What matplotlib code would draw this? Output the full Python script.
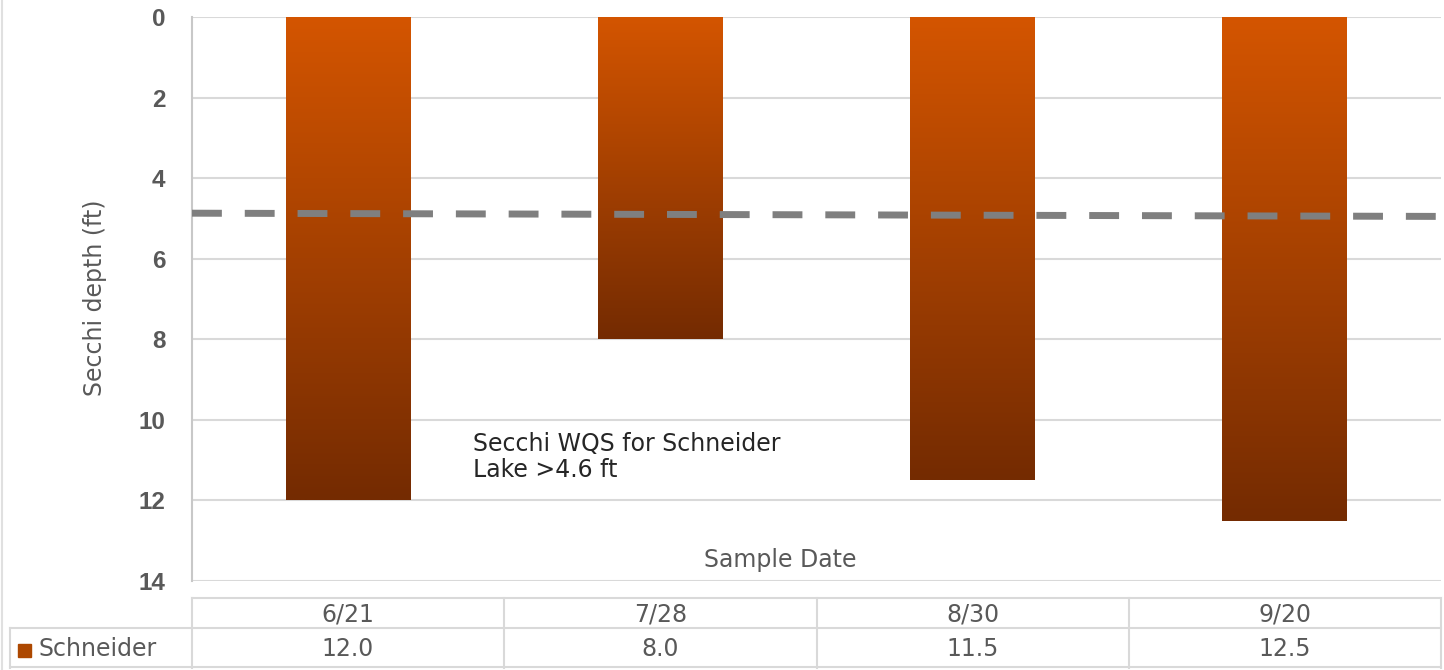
import numpy as np
import matplotlib.pyplot as plt
from matplotlib.colors import LinearSegmentedColormap

# DATA
dates = ["6/21", "7/28", "8/30", "9/20"]
secchi = [12.0, 8.0, 11.5, 12.5]
series_name = "Schneider"
wqs_line = [4.87, 4.95]          # dashed guide, left end / right end (ft)
yticks = [0, 2, 4, 6, 8, 10, 12, 14]

W, H = 1444, 670
fig = plt.figure(figsize=(W/100, H/100), dpi=100)
plt.rcParams["font.family"] = ["Liberation Sans", "DejaVu Sans"]
wide = ["DejaVu Sans"]     # the wider face for the grey labels

def fx(px):
    return px / W

def fy(py):
    return 1 - py / H

# plot area in pixels
x0, x1, y0, y1 = 192, 1441, 17, 581
ax = fig.add_axes([fx(x0), fy(y1), fx(x1 - x0), (y1 - y0) / H])

grid_c = "#d9d9d9"
text_c = "#595959"

x = np.arange(len(dates))
bars = ax.bar(x, secchi, width=0.4, color="none", zorder=2)

# orange-to-brown gradient inside each bar
cmap = LinearSegmentedColormap.from_list("sec", ["#d45500", "#742b02"])
grad = np.linspace(0, 1, 256).reshape(-1, 1)
for b in bars:
    bx, by = b.get_x(), b.get_y()
    im = ax.imshow(grad, cmap=cmap, aspect="auto", zorder=2,
                   extent=[bx, bx + b.get_width(), b.get_height(), by])
    im.set_clip_path(b)
ax.set_xlim(-0.5, len(dates) - 0.5)
ax.set_ylim(14, 0)

ax.set_yticks(yticks)
ax.set_yticklabels([str(t) for t in yticks], fontsize=17.5, fontweight="bold", color=text_c)
ax.tick_params(axis="y", length=0, pad=19)
ax.set_xticks([])
ax.grid(axis="y", color=grid_c, lw=1.5, zorder=0)
for s in ["top", "right", "bottom"]:
    ax.spines[s].set_visible(False)
ax.spines["left"].set_color("#c8c8c8")
ax.spines["left"].set_linewidth(1.5)

# dashed line for the water quality standard
ax.plot([-0.5, len(dates) - 0.5], wqs_line, color="#7f7f7f", lw=5,
        dashes=(4.3, 3.3), zorder=3, solid_capstyle="butt")

ax.text(0.4, 10.3, "Secchi WQS for Schneider\nLake >4.6 ft", fontsize=17,
        family=wide, color="#262626", va="top", ha="left", linespacing=1.1, zorder=4)
ax.text(1.385, 13.48, "Sample Date", fontsize=17, family=wide, color=text_c,
        ha="center", va="center")

fig.text(fx(95), fy(298), "Secchi depth (ft)", rotation=90, fontsize=17,
         family=wide, color=text_c, ha="center", va="center")

# data table under the chart
cols = [192, 504, 817, 1129, 1441]
r0, r1, r2 = 598, 628, 668
lkw = dict(color=grid_c, lw=1.5)
fig.add_artist(plt.Line2D([fx(192), fx(1441)], [fy(r0), fy(r0)], **lkw))
fig.add_artist(plt.Line2D([fx(10), fx(1441)], [fy(r1), fy(r1)], **lkw))
fig.add_artist(plt.Line2D([fx(10), fx(1441)], [fy(r2 - 1), fy(r2 - 1)], **lkw))
fig.add_artist(plt.Line2D([fx(10), fx(10)], [fy(r1), fy(r2)], **lkw))
for c in cols:
    fig.add_artist(plt.Line2D([fx(c), fx(c)], [fy(r0), fy(r2)], **lkw))
for i, (d, v) in enumerate(zip(dates, secchi)):
    cx = (cols[i] + cols[i + 1]) / 2
    fig.text(fx(cx), fy((r0 + r1) / 2 + 1), d, fontsize=17, family=wide,
             color=text_c, ha="center", va="center")
    fig.text(fx(cx), fy((r1 + r2) / 2 + 1), f"{v:.1f}", fontsize=17, family=wide,
             color=text_c, ha="center", va="center")

# legend key in the table
fig.add_artist(plt.Rectangle((fx(18), fy(657)), fx(13), 13 / H, color="#ad4800"))
fig.text(fx(38), fy((r1 + r2) / 2 + 1), series_name, fontsize=17, family=wide,
         color=text_c, ha="left", va="center")

# outer chart frame
fig.add_artist(plt.Line2D([fx(1.5), fx(1.5)], [0, 1], color="#e0e0e0", lw=1.5))

fig.savefig("out.png", dpi=100)
